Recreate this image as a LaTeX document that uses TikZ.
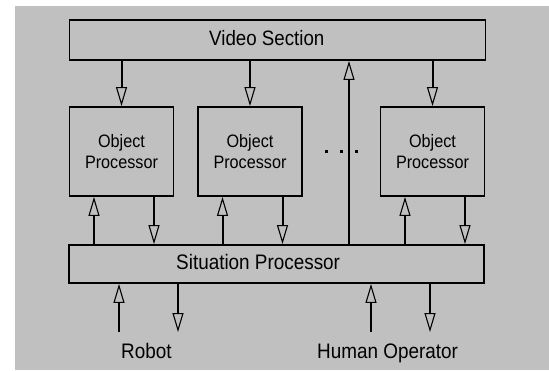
\documentclass[tikz,border=0pt]{standalone}
\usepackage{fontspec}
\setmainfont{Liberation Sans}[FakeStretch=0.9]
\usetikzlibrary{arrows.meta}
\definecolor{sfondo}{RGB}{192,192,192}
\tikzset{
  blocco/.style={draw=black, line width=1.8pt, inner sep=0pt},
  freccia/.style={line width=2pt, -{Triangle[open, length=19pt, width=11pt, line width=1.1pt]}},
  testo/.style={inner sep=0pt, anchor=base west},
}
\begin{document}
\begin{tikzpicture}[x=1pt, y=-1pt]
		\useasboundingbox (0,0) rectangle (549,370);
		% sfondo
		\fill[sfondo] (15,6) rectangle (549,370);
		
		% blocchi
		\node[blocco, minimum width=416pt, minimum height=40pt] (video) at (277.5,40) {};
		\node[blocco, minimum width=415pt, minimum height=38pt] (sit) at (276.5,264) {};
		\foreach \o/\x in {op1/121.5, op2/250, op3/432.5}
			\node[blocco, minimum width=104pt, minimum height=89pt, align=center,
				font=\fontsize{18}{20.5}\selectfont] (\o) at (\x,151.5) {Object\\Processor};
		
		% scritte
		\node[testo, font=\fontsize{20.8}{24}\selectfont] (tvideo) at (209,45.7) {Video Section};
		\node[testo, font=\fontsize{21}{24}\selectfont] (tsit) at (176,269) {Situation Processor};
		\node[testo, font=\fontsize{21}{24}\selectfont] (robot) at (121,358) {Robot};
		\node[testo, font=\fontsize{21}{24}\selectfont] (umano) at (317,358) {Human Operator};
		
		% puntini
		\foreach \i in {0,1,2}
			\fill ({325+15*\i},150) rectangle ++(2.5,2.5);
		
		% frecce tra i blocchi
		\foreach \o in {op1,op2,op3}{
			\coordinate (\o-su) at ([xshift=-27.5pt]\o.south);
			\coordinate (\o-giu) at ([xshift=32.5pt]\o.south);
			\draw[freccia] (video.south -| \o.north) -- (\o.north);
			\draw[freccia] (\o-su |- sit.north) -- (\o-su);
			\draw[freccia] (\o-giu) -- (\o-giu |- sit.north);
		}
		\coordinate (ritorno) at (349,0);
		\draw[freccia] (ritorno |- sit.north) -- (ritorno |- video.south);
		
		% robot e operatore
		\coordinate (r-su) at (119,332);
		\coordinate (r-giu) at (178,332);
		\coordinate (u-su) at (371,332);
		\coordinate (u-giu) at (430,332);
		\draw[freccia] (r-su) -- (r-su |- sit.south);
		\draw[freccia] (r-giu |- sit.south) -- (r-giu);
		\draw[freccia] (u-su) -- (u-su |- sit.south);
		\draw[freccia] (u-giu |- sit.south) -- (u-giu);
		
	\end{tikzpicture}
\end{document}
